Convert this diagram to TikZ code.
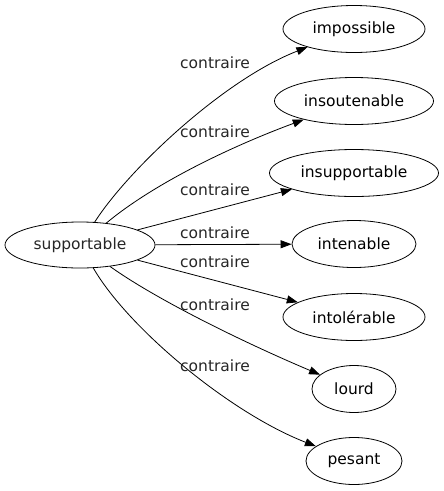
\documentclass[tikz,border=0pt]{standalone}
\usepackage{fontspec}
\setmainfont{DejaVu Sans}
\usetikzlibrary{arrows.meta,shapes.geometric}
\begin{document}
\begin{tikzpicture}[x=1pt, y=-1pt, font=\fontsize{15.5}{18}\selectfont, line join=round, line width=0.8pt,
	word/.style={draw, ellipse, inner sep=0pt, minimum height=47pt},
	rel/.style={-{Triangle[length=11pt,width=8pt]}},
	lbl/.style={inner sep=0pt, text=black!85}]
	\useasboundingbox (0,0) rectangle (444,491);
	% mot de depart
	\node[word, minimum width=150pt, minimum height=46pt, text=black!85] (sup) at (80,245) {supportable};
	% contraires
	\node[word, minimum width=142pt] (imp) at (354,29) {impossible};
	\node[word, minimum width=159pt] (ins) at (354,101) {insoutenable};
	\node[word, minimum width=169pt] (isp) at (354,173) {insupportable};
	\node[word, minimum width=124pt] (int) at (354,244) {intenable};
	\node[word, minimum width=142pt] (itl) at (354,317) {intolérable};
	\node[word, minimum width=84pt] (lou) at (354,389) {lourd};
	\node[word, minimum width=96pt] (pes) at (354,461) {pesant};
	% aretes
	\draw[rel] (sup) .. controls (128,170) and (223,80) .. (imp);
	\draw[rel] (sup) .. controls (152,185) and (227,148) .. (ins);
	\draw[rel] (sup) -- (isp);
	\draw[rel] (sup) -- (int);
	\draw[rel] (sup) -- (itl);
	\draw[rel] (sup) .. controls (157,300) and (245,343) .. (lou);
	\draw[rel] (sup) .. controls (128,328) and (230,413) .. (pes);
	% etiquettes
	\foreach \n/\y in {l1/63,l2/132,l3/190,l4/233,l5/262,l6/305,l7/366}
		\node[lbl] (\n) at (215,\y) {contraire};
\end{tikzpicture}
\end{document}
